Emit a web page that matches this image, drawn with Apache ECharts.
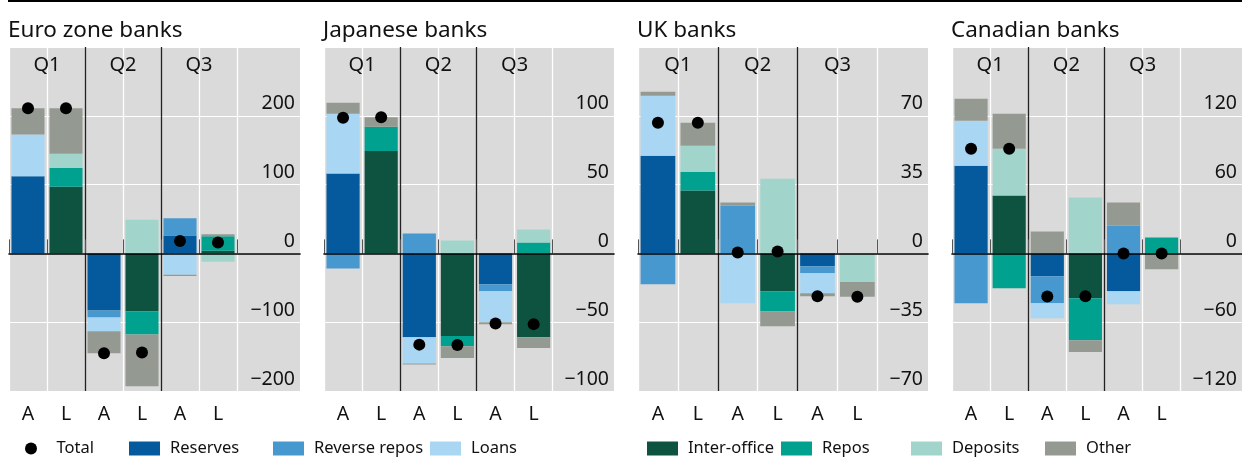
<!DOCTYPE html>
<html>
<head>
<meta charset="utf-8">
<script src="https://cdn.jsdelivr.net/npm/echarts@6/dist/echarts.min.js"></script>
<style>
    html, body { margin: 0; padding: 0; background: #fff; }
    #chart { width: 1242px; height: 459px; }
</style>
</head>
<body>
<div id="chart"></div>
<script>
// categories
var sides = ['A', 'L', 'A', 'L', 'A', 'L'];
var quarters = ['Q1', 'Q2', 'Q3'];
var seriesNames = ['Reserves', 'Reverse repos', 'Loans', 'Inter-office', 'Repos', 'Deposits', 'Other'];

// Euro zone banks
var euroTicks = [-200, -100, 0, 100, 200];
var euroReserves = [112, null, -83, null, 26, null];
var euroReverseRepos = [null, null, -10, null, 25, null];
var euroLoans = [61, null, -20, null, -31, null];
var euroInterOffice = [null, 97, null, -84, null, 4];
var euroRepos = [null, 27, null, -34, null, 21];
var euroDeposits = [null, 21, null, 49, null, -12];
var euroOther = [38, 66, -32, -75, -2, 3];
var euroTotal = [211, 211, -145, -144, 18, 16];

// Japanese banks
var japanTicks = [-100, -50, 0, 50, 100];
var japanReserves = [58, null, -61, null, -22.5, null];
var japanReverseRepos = [-11, null, 14.5, null, -5, null];
var japanLoans = [43.5, null, -19, null, -22.5, null];
var japanInterOffice = [null, 74.5, null, -60, null, -61];
var japanRepos = [null, 17.5, null, -7.4, null, 8];
var japanDeposits = [null, null, null, 9.4, null, 9.4];
var japanOther = [8, 7, -0.8, -8.6, -1.4, -7.8];
var japanTotal = [98.5, 99, -66.3, -66.6, -51, -51.4];

// UK banks
var ukTicks = [-70, -35, 0, 35, 70];
var ukReserves = [49.7, null, null, null, -6.6, null];
var ukReverseRepos = [-15.7, null, 24.4, null, -3.5, null];
var ukLoans = [30.5, null, -25.4, null, -10.2, null];
var ukInterOffice = [null, 32, null, -19.3, null, null];
var ukRepos = [null, 9.6, null, -10.1, null, null];
var ukDeposits = [null, 13.2, null, 38, null, -14.5];
var ukOther = [2, 11.7, 1.5, -7.6, -1.5, -7.6];
var ukTotal = [66.5, 66.5, 0.5, 1, -21.8, -22.1];

// Canadian banks
var canadaTicks = [-120, -60, 0, 60, 120];
var canadaReserves = [76.5, null, -20, null, -33, null];
var canadaReverseRepos = [-43.5, null, -23.5, null, 24.3, null];
var canadaLoans = [39.2, null, -13, null, -11.3, null];
var canadaInterOffice = [null, 50.4, null, -39.1, null, null];
var canadaRepos = [null, -30.4, null, -36.6, null, 13.9];
var canadaDeposits = [null, 40.9, null, 48.7, null, null];
var canadaOther = [19.1, 30.4, 19, -10.3, 20, -13.9];
var canadaTotal = [91.3, 91.3, -37.5, -37.3, 0, 0];

var panels = [
    { title: 'Euro zone banks', ticks: euroTicks, total: euroTotal,
      parts: [euroReserves, euroReverseRepos, euroLoans, euroInterOffice, euroRepos, euroDeposits, euroOther] },
    { title: 'Japanese banks', ticks: japanTicks, total: japanTotal,
      parts: [japanReserves, japanReverseRepos, japanLoans, japanInterOffice, japanRepos, japanDeposits, japanOther] },
    { title: 'UK banks', ticks: ukTicks, total: ukTotal,
      parts: [ukReserves, ukReverseRepos, ukLoans, ukInterOffice, ukRepos, ukDeposits, ukOther] },
    { title: 'Canadian banks', ticks: canadaTicks, total: canadaTotal,
      parts: [canadaReserves, canadaReverseRepos, canadaLoans, canadaInterOffice, canadaRepos, canadaDeposits, canadaOther] }
];

// layout / style
var colors = ['#045a9c', '#4898d0', '#a8d6f3', '#0e5340', '#00a28f', '#a1d5cc', '#949a92'];
var panelLeft = [9, 324, 638, 952];
var barsRight = [237, 552.7, 877.3, 1180.7];
var plotRight = [300, 614, 928, 1242];
var plotTop = 47;
var plotHeight = 344;
var font = 'Noto Sans';
var legendNames = ['Total'].concat(seriesNames);
var legendLeft = [25, 129, 273, 430, 647, 781, 911, 1045];

var chart = echarts.init(document.getElementById('chart'));

function fmtTick(max) {
    return function(v) {
        if (v === max) return '';
        return v < 0 ? '\u2212' + (-v) : String(v);
    };
}

function buildOption() {
    var option = {
        animation: false,
        backgroundColor: '#fff',
        title: [],
        legend: [],
        grid: [],
        xAxis: [],
        yAxis: [],
        series: [],
        graphic: [{
            type: 'rect', left: 8, top: 0,
            shape: { width: 1234, height: 2 },
            style: { fill: '#000' }
        }]
    };

    for (var i = 0; i < panels.length; i++) {
        var p = panels[i];
        var step = p.ticks[1] - p.ticks[0];
        var yMin = p.ticks[0];
        var yMax = p.ticks[p.ticks.length - 1] + step;
        var bgGrid = i * 2;
        var barGrid = i * 2 + 1;

        option.title.push({
            text: p.title, left: panelLeft[i] - 1, top: 19, padding: 0,
            textStyle: { fontFamily: font, fontSize: 22.5, fontWeight: 'normal', color: '#111' }
        });

        // background grid: grey area, horizontal lines, labels, zero line
        option.grid.push({
            left: panelLeft[i], width: plotRight[i] - panelLeft[i], top: plotTop, height: plotHeight,
            show: true, backgroundColor: '#dadada', borderWidth: 0
        });
        // bar grid
        option.grid.push({
            left: panelLeft[i], width: barsRight[i] - panelLeft[i], top: plotTop, height: plotHeight
        });

        option.xAxis.push({
            type: 'value', gridIndex: bgGrid, min: 0, max: 1, z: 5,
            axisLine: { show: true, onZero: true, lineStyle: { color: '#000', width: 1.6 } },
            axisTick: { show: false }, axisLabel: { show: false }, splitLine: { show: false }
        });
        option.yAxis.push({
            type: 'value', gridIndex: bgGrid, position: 'right',
            min: yMin, max: yMax, interval: step,
            axisLine: { show: false }, axisTick: { show: false },
            splitLine: { show: true, lineStyle: { color: '#fff', width: 1.2 } },
            axisLabel: {
                inside: true, margin: 5, verticalAlign: 'bottom', padding: [0, 0, 2, 0],
                fontFamily: font, fontSize: 19.5, color: '#111', formatter: fmtTick(yMax)
            }
        });

        var sideAxis = option.xAxis.length;
        option.xAxis.push({
            type: 'category', gridIndex: barGrid, data: sides,
            axisLine: { show: false },
            axisTick: { show: true, inside: true, length: 14, lineStyle: { color: '#555', width: 1 } },
            axisLabel: { margin: 13, fontFamily: font, fontSize: 19.5, color: '#111' },
            splitLine: {
                show: true,
                lineStyle: { color: ['#fff', '#fff', '#222', '#fff', '#222', '#fff', '#fff'], width: 1.3 }
            }
        });
        option.xAxis.push({
            type: 'category', gridIndex: barGrid, data: quarters, position: 'top',
            axisLine: { show: false }, axisTick: { show: false }, splitLine: { show: false },
            axisLabel: { inside: true, margin: 8, fontFamily: font, fontSize: 20, color: '#111' }
        });
        var barY = option.yAxis.length;
        option.yAxis.push({
            type: 'value', gridIndex: barGrid, min: yMin, max: yMax, interval: step, show: false
        });

        for (var s = 0; s < seriesNames.length; s++) {
            option.series.push({
                name: seriesNames[s], type: 'bar', stack: 'panel' + i,
                xAxisIndex: sideAxis, yAxisIndex: barY,
                barWidth: '87%', itemStyle: { color: colors[s] },
                data: p.parts[s]
            });
        }
        option.series.push({
            name: 'Total', type: 'scatter', xAxisIndex: sideAxis, yAxisIndex: barY,
            symbolSize: 12, itemStyle: { color: '#000', opacity: 1 }, z: 6,
            data: p.total
        });
    }

    for (var k = 0; k < legendNames.length; k++) {
        var isDot = legendNames[k] === 'Total';
        option.legend.push({
            data: [legendNames[k]], left: legendLeft[k], top: 440, padding: 0,
            icon: isDot ? 'circle' : 'rect', itemWidth: 31, itemHeight: isDot ? 12 : 14,
            selectedMode: false,
            itemStyle: isDot ? { color: '#000', opacity: 1 } : {},
            textStyle: { fontFamily: font, fontSize: 16.5, color: '#111', padding: [0, 0, 0, 5] }
        });
    }
    return option;
}

chart.setOption(buildOption());
</script>
</body>
</html>
